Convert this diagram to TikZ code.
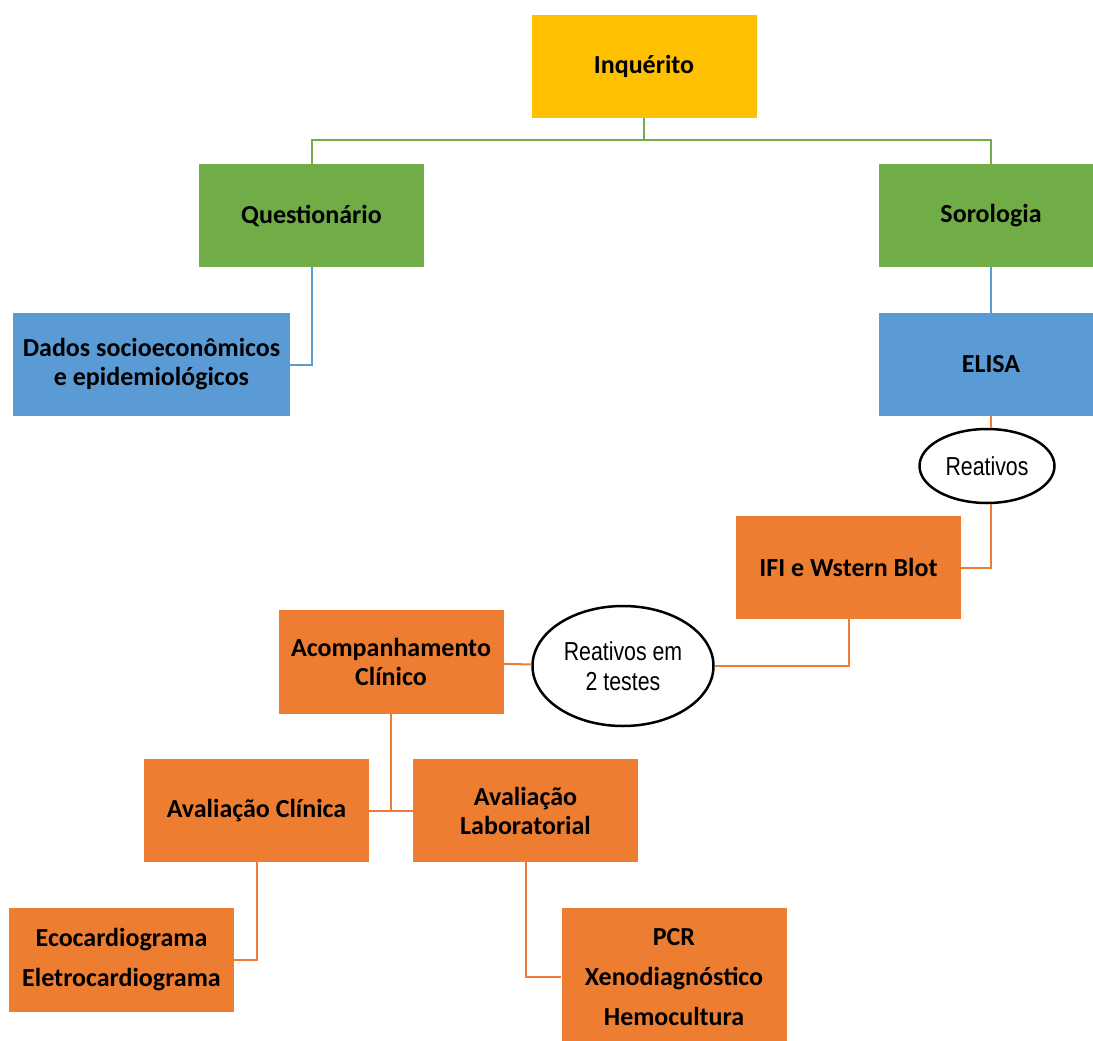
\documentclass[tikz,border=0pt]{standalone}
\usepackage{fontspec}
\setmainfont{Carlito}
\newfontfamily\ovalfont[FakeStretch=0.82]{Liberation Sans}
\usetikzlibrary{shapes.geometric}

\definecolor{boxyellow}{HTML}{FFC000}
\definecolor{boxgreen}{HTML}{70AD47}
\definecolor{boxblue}{HTML}{5B9BD5}
\definecolor{boxorange}{HTML}{ED7D31}

\begin{document}
\begin{tikzpicture}[x=1pt,y=-1pt,
      box/.style={rectangle,minimum width=225pt,minimum height=103pt,inner sep=0pt,
        align=center,font=\fontsize{26}{29}\selectfont\bfseries},
      oval/.style={ellipse,draw,line width=2.5pt,fill=white,inner sep=0pt,
        align=center,font=\ovalfont\fontsize{26}{30}\selectfont},
      link/.style={line width=2pt}]

    \useasboundingbox (0,0) rectangle (1093,1041);

    % top levels
    \node[box,fill=boxyellow] (inq) at (644,66.5) {Inquérito};
    \node[box,fill=boxgreen] (quest) at (311.5,215.5) {Questionário};
    \node[box,fill=boxgreen] (soro) at (991,215.5) {Sorologia};
    \node[box,fill=boxblue,minimum width=277pt] (dados) at (151.5,364.5)
      {Dados socioeconômicos\\e epidemiológicos};
    \node[box,fill=boxblue] (elisa) at (991,364.5) {ELISA};

    % confirmation
    \node[oval,minimum width=135pt,minimum height=74pt] (reat) at (987,466) {Reativos};
    \node[box,fill=boxorange] (ifi) at (848.5,567.5) {IFI e Wstern Blot};
    \node[oval,minimum width=181pt,minimum height=120pt] (reat2) at (623,666)
      {Reativos em\\2 testes};
    \node[box,fill=boxorange,minimum height=104pt] (acomp) at (391,662)
      {Acompanhamento\\Clínico};

    % follow-up
    \node[box,fill=boxorange] (avclin) at (256.5,810.5) {Avaliação Clínica};
    \node[box,fill=boxorange] (avlab) at (525.5,810.5) {Avaliação\\Laboratorial};
    \node[box,fill=boxorange,minimum height=104pt,font=\fontsize{26}{40}\selectfont\bfseries]
      (eco) at (121.5,960) {Ecocardiograma\\Eletrocardiograma};
    \node[box,fill=boxorange,minimum height=138pt,font=\fontsize{26}{40}\selectfont\bfseries]
      (pcr) at (674,977) {PCR\\Xenodiagnóstico\\Hemocultura};

    \coordinate (split) at (644,140);
    \coordinate (join) at (391,811);

    \draw[link,boxgreen] (inq) -- (split);
    \draw[link,boxgreen] (split) -| (quest);
    \draw[link,boxgreen] (split) -| (soro);

    \draw[link,boxblue] (quest) |- (dados);
    \draw[link,boxblue] (soro) -- (elisa);

    \draw[link,boxorange] (elisa.south) -- (elisa.south |- reat.north);
    \draw[link,boxorange] (reat.south -| elisa.south) |- (ifi);
    \draw[link,boxorange] (ifi.south) |- (reat2.east);
    \draw[link,boxorange] (reat2) -- (acomp);
    \draw[link,boxorange] (acomp) -- (join);
    \draw[link,boxorange] (avclin) -- (avlab);
    \draw[link,boxorange] (avclin) |- (eco);
    \draw[link,boxorange] (avlab) |- (pcr);

\end{tikzpicture}
\end{document}
